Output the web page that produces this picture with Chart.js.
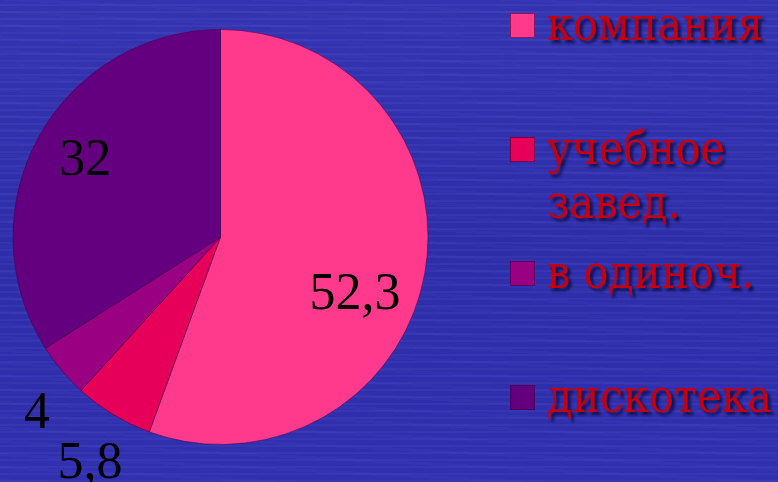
<!DOCTYPE html>
<html>
<head>
<meta charset="utf-8">
<script src="https://cdn.jsdelivr.net/npm/chart.js@4/dist/chart.umd.min.js"></script>
<style>
  html, body { margin: 0; padding: 0; }
  body {
    width: 778px; height: 482px; overflow: hidden;
    background-color: #2f2fae;
    background-image:
      repeating-linear-gradient(0deg, rgba(255,255,255,0.035) 0px, rgba(255,255,255,0.035) 2px, rgba(0,0,0,0) 2px, rgba(0,0,0,0) 7px),
      repeating-linear-gradient(3deg, rgba(120,120,255,0.05) 0px, rgba(120,120,255,0.05) 3px, rgba(0,0,0,0) 3px, rgba(0,0,0,0) 13px),
      linear-gradient(180deg, #3434b2 0%, #2e2eaa 50%, #3030b0 100%);
  }
  #wrap { position: absolute; left: 0; top: 0; width: 778px; height: 482px; }
</style>
</head>
<body>
<div id="wrap"><canvas id="c" width="778" height="482"></canvas></div>
<script>
// ---- data ----
const categories = ['компания', 'учебное завед.', 'в одиноч.', 'дискотека'];
const values = [52.3, 5.8, 4, 32];
const colors = ['#ff3a8c', '#e6005a', '#9a0082', '#640080'];

// ---- styling (label placement relative to each slice) ----
const labelRadial = [0.70, 1.25, 1.22, 0.755];
const labelAngleShift = [12.2, -1.0, -3.5, 1.5];
const NUM_FONT = '"Liberation Serif", serif';
const LEG_FONT = '"DejaVu Serif Condensed", "DejaVu Serif", serif';

function fmt(v) { return String(v).replace('.', ','); }

const dataLabelsPlugin = {
  id: 'dataLabels',
  afterDatasetsDraw(chart) {
    const ctx = chart.ctx;
    const meta = chart.getDatasetMeta(0);
    ctx.save();
    ctx.font = '52px ' + NUM_FONT;
    ctx.fillStyle = '#000000';
    ctx.textAlign = 'center';
    ctx.textBaseline = 'alphabetic';
    meta.data.forEach((arc, i) => {
      const p = arc.getProps(['x', 'y', 'startAngle', 'endAngle', 'outerRadius'], true);
      const mid = (p.startAngle + p.endAngle) / 2 + labelAngleShift[i] * Math.PI / 180;
      const r = p.outerRadius * labelRadial[i];
      const x = p.x + Math.cos(mid) * r;
      const y = p.y + Math.sin(mid) * r;
      ctx.fillText(fmt(chart.data.datasets[0].data[i]), x, y + 17);
    });
    ctx.restore();
  }
};

const legendPlugin = {
  id: 'customLegend',
  afterDraw(chart) {
    const ctx = chart.ctx;
    const ds = chart.data.datasets[0];
    const boxX = 510, textX = 547, maxW = 778 - textX;
    const firstBase = 40, step = 124, lineH = 54;
    ctx.save();
    // fit font so the first label spans ~221px like the reference
    ctx.font = '100px ' + LEG_FONT;
    const w100 = ctx.measureText(chart.data.labels[0]).width;
    const size = Math.min(54, Math.floor(100 * 221 / w100));
    ctx.font = size + 'px ' + LEG_FONT;
    ctx.textAlign = 'left';
    ctx.textBaseline = 'alphabetic';
    chart.data.labels.forEach((lab, i) => {
      const base = firstBase + step * i;
      ctx.fillStyle = ds.backgroundColor[i];
      ctx.strokeStyle = 'rgba(60,0,60,0.6)';
      ctx.lineWidth = 1;
      ctx.fillRect(boxX, base - 27, 25, 25);
      ctx.strokeRect(boxX + 0.5, base - 26.5, 24, 24);
      const words = lab.split(' ');
      const lines = [];
      let cur = '';
      words.forEach(w => {
        const t = cur ? cur + ' ' + w : w;
        if (ctx.measureText(t).width > maxW && cur) { lines.push(cur); cur = w; }
        else cur = t;
      });
      if (cur) lines.push(cur);
      lines.forEach((ln, k) => {
        const y = base + k * lineH;
        ctx.save();
        ctx.shadowColor = 'rgba(10,10,60,0.85)';
        ctx.shadowOffsetX = 3;
        ctx.shadowOffsetY = 3;
        ctx.shadowBlur = 3;
        ctx.fillStyle = '#c40010';
        ctx.fillText(ln, textX, y);
        ctx.restore();
      });
    });
    ctx.restore();
  }
};

new Chart(document.getElementById('c'), {
  type: 'pie',
  data: {
    labels: categories,
    datasets: [{
      data: values,
      backgroundColor: colors,
      borderColor: 'rgba(70,0,70,0.55)',
      borderWidth: 1
    }]
  },
  options: {
    responsive: false,
    animation: false,
    layout: { padding: { left: 12, right: 349, top: 29, bottom: 37 } },
    plugins: {
      legend: { display: false },
      tooltip: { enabled: false }
    }
  },
  plugins: [dataLabelsPlugin, legendPlugin]
});
</script>
</body>
</html>
